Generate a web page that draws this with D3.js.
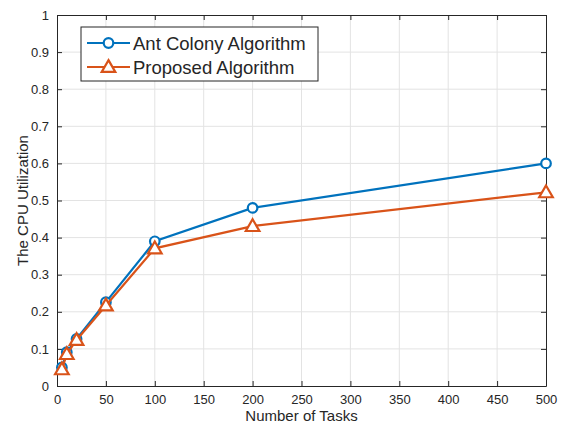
<!DOCTYPE html>
<html>
<head>
<meta charset="utf-8">
<script src="https://cdn.jsdelivr.net/npm/d3@7"></script>
<style>
  body { margin: 0; background: #fff; }
  text { font-family: Arial, "Liberation Sans", sans-serif; fill: #262626; }
</style>
</head>
<body>
<div id="chart"></div>
<script>
// data
const tasks = [5, 10, 20, 50, 100, 200, 500]
const antColony = [0.05, 0.091, 0.127, 0.226, 0.39, 0.48, 0.60]
const proposed = [0.045, 0.086, 0.124, 0.217, 0.371, 0.431, 0.522]
const xTicks = [0, 50, 100, 150, 200, 250, 300, 350, 400, 450, 500]
const yTicks = [0, 0.1, 0.2, 0.3, 0.4, 0.5, 0.6, 0.7, 0.8, 0.9, 1]
const seriesNames = ['Ant Colony Algorithm', 'Proposed Algorithm']
const seriesColors = ['#0072BD', '#D95319']

const W = 566, H = 428
const margin = {top: 15, bottom: 42, left: 57, right: 20}
const graphWidth = W - margin.left - margin.right
const graphHeight = H - margin.top - margin.bottom

const svg = d3.select('#chart').append('svg')
  .attr('width', W)
  .attr('height', H)

const g = svg.append('g')
  .attr('transform', `translate(${margin.left}, ${margin.top})`)

// scales
const x = d3.scaleLinear().domain([0, 500]).range([0, graphWidth])
const y = d3.scaleLinear().domain([0, 1]).range([graphHeight, 0])

// grid
g.append('g').selectAll('line').data(xTicks.slice(1, -1)).enter().append('line')
  .attr('x1', d => x(d)).attr('x2', d => x(d))
  .attr('y1', 0).attr('y2', graphHeight)
  .attr('stroke', '#e3e3e3').attr('stroke-width', 1)
g.append('g').selectAll('line').data(yTicks.slice(1, -1)).enter().append('line')
  .attr('y1', d => y(d)).attr('y2', d => y(d))
  .attr('x1', 0).attr('x2', graphWidth)
  .attr('stroke', '#e3e3e3').attr('stroke-width', 1)

// axes (ticks inward, MATLAB style)
const tickLen = 5
const xAxis = d3.axisBottom(x).tickValues(xTicks).tickSizeInner(-tickLen).tickSizeOuter(0).tickPadding(9)
const yAxis = d3.axisLeft(y).tickValues(yTicks).tickSizeInner(-tickLen).tickSizeOuter(0).tickPadding(8)
  .tickFormat(d => d === 0 ? '0' : d === 1 ? '1' : d3.format('.1f')(d))
const xTop = d3.axisTop(x).tickValues(xTicks).tickSizeInner(-tickLen).tickSizeOuter(0).tickFormat('')
const yRight = d3.axisRight(y).tickValues(yTicks).tickSizeInner(-tickLen).tickSizeOuter(0).tickFormat('')

g.append('g').attr('transform', `translate(0, ${graphHeight})`).call(xAxis)
g.append('g').call(yAxis)
g.append('g').call(xTop)
g.append('g').attr('transform', `translate(${graphWidth}, 0)`).call(yRight)

g.selectAll('.domain').attr('stroke', '#262626')
g.selectAll('.tick line').attr('stroke', '#262626')
g.selectAll('.tick text').attr('font-size', '13px').attr('fill', '#262626')

// axis labels
svg.append('text')
  .attr('x', margin.left + graphWidth / 2)
  .attr('y', H - 7)
  .attr('text-anchor', 'middle')
  .attr('font-size', '15px')
  .text('Number of Tasks')
svg.append('text')
  .attr('transform', `translate(28, ${margin.top + graphHeight / 2}) rotate(-90)`)
  .attr('text-anchor', 'middle')
  .attr('font-size', '15px')
  .text('The CPU Utilization')

// lines
const line = d3.line().x(d => x(d[0])).y(d => y(d[1]))
const seriesData = [antColony, proposed].map(vals => tasks.map((t, i) => [t, vals[i]]))

const tri = d3.symbol().type(d3.symbolTriangle).size(80)

seriesData.forEach((data, k) => {
  g.append('path')
    .datum(data)
    .attr('d', line)
    .attr('fill', 'none')
    .attr('stroke', seriesColors[k])
    .attr('stroke-width', 2.2)

  if (k === 0) {
    g.selectAll('.m0').data(data).enter().append('circle')
      .attr('class', 'm0')
      .attr('cx', d => x(d[0])).attr('cy', d => y(d[1]))
      .attr('r', 4.8)
      .attr('fill', '#fff')
      .attr('stroke', seriesColors[k]).attr('stroke-width', 2.2)
  } else {
    g.selectAll('.m1').data(data).enter().append('path')
      .attr('class', 'm1')
      .attr('d', tri)
      .attr('transform', d => `translate(${x(d[0])}, ${y(d[1]) + 1})`)
      .attr('fill', '#fff')
      .attr('stroke', seriesColors[k]).attr('stroke-width', 2.2)
  }
})

// legend
const legend = svg.append('g').attr('transform', 'translate(81, 27)')
legend.append('rect')
  .attr('width', 237).attr('height', 54)
  .attr('fill', '#fff').attr('stroke', '#262626').attr('stroke-width', 1)

seriesNames.forEach((name, k) => {
  const ly = 16 + k * 24
  legend.append('line')
    .attr('x1', 6).attr('x2', 49).attr('y1', ly).attr('y2', ly)
    .attr('stroke', seriesColors[k]).attr('stroke-width', 2.2)
  if (k === 0) {
    legend.append('circle').attr('cx', 27.5).attr('cy', ly).attr('r', 4.8)
      .attr('fill', '#fff').attr('stroke', seriesColors[k]).attr('stroke-width', 2.2)
  } else {
    legend.append('path').attr('d', tri)
      .attr('transform', `translate(27.5, ${ly + 1})`)
      .attr('fill', '#fff').attr('stroke', seriesColors[k]).attr('stroke-width', 2.2)
  }
  legend.append('text')
    .attr('x', 52).attr('y', ly + 7)
    .attr('font-size', '18.5px')
    .attr('fill', '#000')
    .text(name)
})
</script>
</body>
</html>
